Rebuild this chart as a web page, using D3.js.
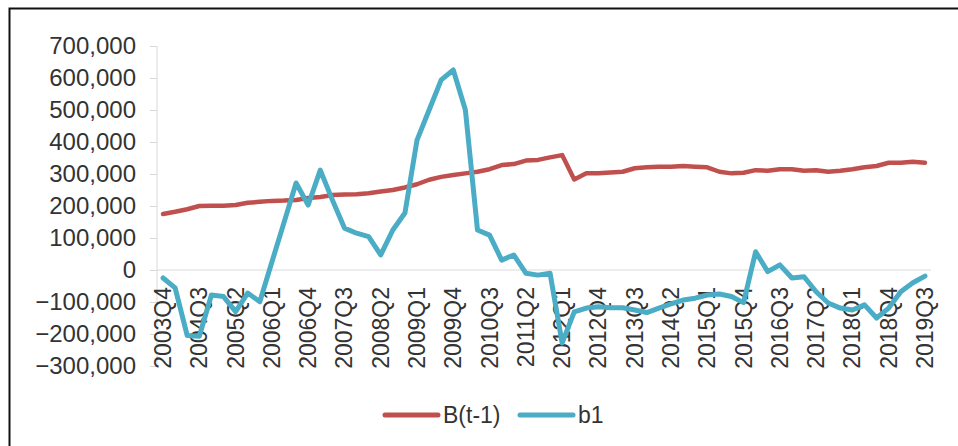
<!DOCTYPE html>
<html>
<head>
<meta charset="utf-8">
<script src="https://cdn.jsdelivr.net/npm/d3@7"></script>
<style>
  body { margin: 0; background: #fff; }
  svg { display: block; }
  text { font-family: "Liberation Sans", Arial, sans-serif; fill: #333; }
</style>
</head>
<body>
<div id="chart"></div>
<script>
// quarters 2003Q4 .. 2019Q3
var quarters = [];
for (var yr = 2003; yr <= 2019; yr++) {
  for (var q = 1; q <= 4; q++) {
    if (yr == 2003 && q < 4) continue;
    if (yr == 2019 && q > 3) continue;
    quarters.push(yr + "Q" + q);
  }
}

var bPrev = [175000, 182000, 190000, 200000, 201000, 201000, 203000, 210000,
  213000, 216000, 217000, 219000, 225000, 228000, 234000, 236000,
  237000, 240000, 245000, 250000, 258000, 268000, 282000, 291000,
  297000, 302000, 307000, 315000, 328000, 331000, 342000, 344000,
  352000, 359000, 283000, 302000, 302000, 305000, 307000, 318000,
  321000, 323000, 323000, 325000, 323000, 321000, 307000, 302000,
  304000, 312000, 310000, 315000, 315000, 310000, 312000, 307000,
  310000, 315000, 321000, 325000, 335000, 335000, 338000, 335000];

var b1 = [-25000, -56000, -205000, -207000, -78000, -83000, -130000, -72000,
  -99000, 25000, 148000, 272000, 203000, 312000, 219000, 131000,
  115000, 104000, 47000, 125000, 178000, 406000, 500000, 594000,
  625000, 500000, 125000, 109000, 31000, 47000, -10000, -16000,
  -10000, -228000, -131000, -119000, -115000, -118000, -118000, -125000,
  -133000, -119000, -106000, -94000, -88000, -78000, -75000, -83000,
  -102000, 57000, -5000, 16000, -25000, -21000, -68000, -103000,
  -119000, -125000, -109000, -150000, -119000, -68000, -40000, -19000];

var yTicks = [-300000, -200000, -100000, 0, 100000, 200000, 300000, 400000, 500000, 600000, 700000];
var seriesNames = ["B(t-1)", "b1"];
var seriesColors = ["#C0504D", "#4BACC6"];

var width = 958, height = 446;

var svg = d3.select("#chart")
  .append("svg")
    .attr("width", width)
    .attr("height", height);

// outer frame (only top and left edge visible)
svg.append("path")
  .attr("d", "M9.5,446 L9.5,8.5 L958,8.5")
  .attr("fill", "none")
  .attr("stroke", "#111")
  .attr("stroke-width", 2);

var x = d3.scaleBand()
  .domain(quarters)
  .range([157, 931]);

var y = d3.scaleLinear()
  .domain([-300000, 700000])
  .range([366, 46]);

var fmt = d3.format(",");

// y axis
var yAxis = d3.axisLeft(y)
  .tickValues(yTicks)
  .tickSize(7)
  .tickPadding(14)
  .tickFormat(function(d) { return fmt(d); });

var gy = svg.append("g")
  .attr("transform", "translate(157,0)")
  .call(yAxis);
gy.select(".domain").attr("stroke", "#d9d9d9").attr("d", "M0,46V366");
gy.selectAll(".tick line").attr("stroke", "#d9d9d9");
gy.selectAll("text")
  .style("font-size", "24px")
  .style("font-family", "'Liberation Sans', Arial, sans-serif")
  .attr("fill", "#333");

// zero line
svg.append("line")
  .attr("x1", 157).attr("x2", 931)
  .attr("y1", y(0)).attr("y2", y(0))
  .attr("stroke", "#d9d9d9")
  .attr("stroke-width", 1);

// x labels every 3rd quarter
var xLabels = quarters.filter(function(d, i) { return i % 3 == 0; });
svg.append("g")
  .selectAll("text")
  .data(xLabels)
  .enter()
  .append("text")
    .attr("transform", function(d) {
      return "translate(" + (x(d) + x.bandwidth() / 2 + 8) + ",287) rotate(-90)";
    })
    .style("text-anchor", "end")
    .style("font-size", "23px")
    .text(function(d) { return d; });

var line = d3.line()
  .x(function(d, i) { return x(quarters[i]) + x.bandwidth() / 2; })
  .y(function(d) { return y(d); });

svg.append("path")
  .datum(bPrev)
  .attr("d", line)
  .attr("fill", "none")
  .attr("stroke", seriesColors[0])
  .attr("stroke-width", 4.5)
  .attr("stroke-linejoin", "round")
  .attr("stroke-linecap", "round");

svg.append("path")
  .datum(b1)
  .attr("d", line)
  .attr("fill", "none")
  .attr("stroke", seriesColors[1])
  .attr("stroke-width", 5)
  .attr("stroke-linejoin", "round")
  .attr("stroke-linecap", "round");

// legend
var legendX = [385, 520];
var legend = svg.selectAll(".legend")
  .data(seriesNames)
  .enter()
  .append("g")
    .attr("class", "legend")
    .attr("transform", function(d, i) { return "translate(" + legendX[i] + ",415)"; });

legend.append("line")
  .attr("x1", 0).attr("x2", 53)
  .attr("stroke", function(d, i) { return seriesColors[i]; })
  .attr("stroke-width", 5)
  .attr("stroke-linecap", "round");

legend.append("text")
  .attr("x", 58)
  .attr("y", 8)
  .style("font-size", "23px")
  .text(function(d) { return d; });
</script>
</body>
</html>
